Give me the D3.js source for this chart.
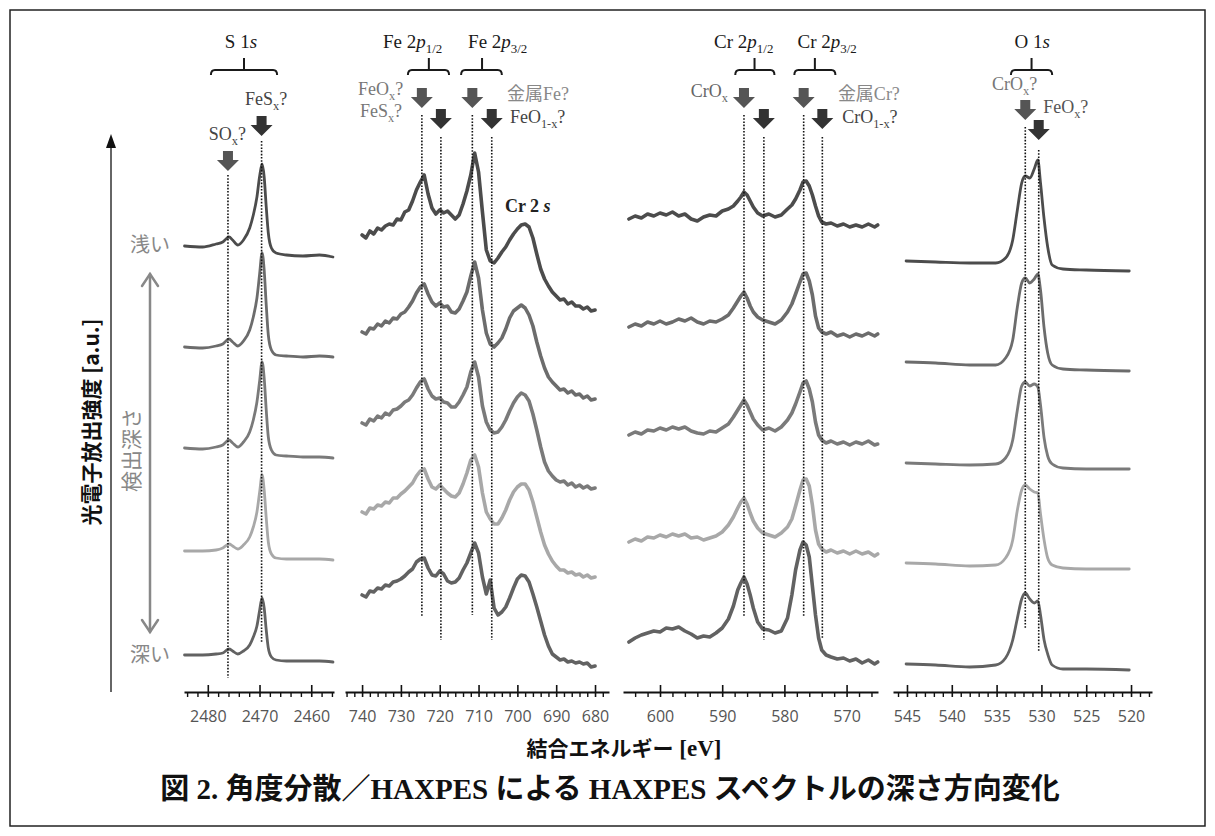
<!DOCTYPE html>
<html><head><meta charset="utf-8">
<script src="https://cdn.jsdelivr.net/npm/d3@7"></script>
<style>
html,body{margin:0;padding:0;background:#fff;}
svg{display:block;}
</style></head>
<body>
<svg id="chart" width="1215" height="836"></svg>
<script>
// ================= DATA =================
// binding energies (eV) and photoelectron intensities (a.u., stacked as displayed), shallow -> deep
const sEnergy = [2484.5,2481.0,2478.4,2477.1,2475.9,2475.2,2474.2,2473.1,2471.9,2471.2,2470.5,2470.0,2469.5,2469.1,2468.7,2468.3,2467.7,2466.8,2464.8,2461.6,2458.4,2455.8];
const sDepth1 = [444,443,446,448,453,450,445,450,462,475,493,513,526,513,483,457,442,437,435,434,435,433];
const sDepth2 = [343,342,344,346,351,348,344,349,360,373,392,415,437,420,385,355,340,335,334,333,334,333];
const sDepth3 = [242,241,243,245,250,247,243,248,258,270,288,308,328,312,280,253,240,235,234,233,233,232];
const sDepth4 = [139,139,140,142,146,144,141,145,153,163,178,197,215,200,172,148,136,132,131,131,131,130];
const sDepth5 = [35,35,36,37,41,39,36,39,45,53,64,79,92,82,60,42,33,30,29,29,29,28];

const feEnergy = [740,739,738,737,736,735,734,733,732,731,730,729,728,727,726,725,724,723,722,721,720,719,718,717,716,715,714,713,712,711,710,709,708,707,706,705,704,703,702,701,700,699,698,697,696,695,694,693,692,691,690,689,688,687,686,685,684,683,682,681,680];
const feDepth1 = [455,452,459,456,462,460,464,466,465,471,470,478,480,489,500,508,515,496,482,476,480,477,479,475,471,475,486,499,515,537,518,478,440,429,427,432,438,443,450,456,461,465,466,463,452,436,421,411,404,398,394,390,391,386,388,384,384,381,383,379,380];
const feDepth2 = [358,356,362,361,366,364,369,367,372,371,376,378,383,389,397,403,406,396,388,384,387,383,384,378,377,381,389,398,414,428,412,380,357,346,343,347,352,361,372,379,382,385,382,375,364,348,334,322,313,308,304,300,301,297,299,295,296,292,294,290,291];
const feDepth3 = [267,265,271,269,274,272,277,275,280,281,284,288,290,295,302,308,311,301,294,291,292,288,287,283,283,288,295,303,318,328,313,284,268,260,257,258,263,270,279,287,293,297,295,289,276,260,243,228,219,214,210,208,209,205,207,203,205,202,204,201,202];
const feDepth4 = [178,176,182,181,185,184,188,187,192,192,196,199,203,207,214,219,221,211,203,201,205,201,197,194,193,197,206,217,230,235,223,197,178,171,166,166,172,180,190,198,203,206,206,200,188,173,158,145,136,129,124,120,120,117,118,115,116,113,115,112,113];
const feDepth5 = [95,93,99,98,102,101,105,104,108,109,111,114,118,121,128,131,132,122,115,114,119,116,109,107,108,112,120,127,137,147,137,113,96,110,82,75,78,83,92,102,111,115,114,108,96,83,69,55,44,36,33,30,31,28,29,27,28,26,27,23,24];

const crEnergy = [605,604,603,602,601,600,599,598,597,596,595,594,593,592,591,590,589,588.2,587.5,587,586.5,586,585.5,585,584.3,583.5,582.5,581.5,580.5,579.5,578.8,578.2,577.5,577,576.5,576,575.5,575,574.5,574,573.3,572.5,571.5,570.5,569.5,568.5,567.5,566.5,565.5,565];
const crDepth1 = [471,474,472,476,474,477,475,478,474,476,471,469,473,475,474,479,481,484,489,493,498,495,489,483,477,474,476,473,475,481,485,491,500,508,509,504,495,484,474,468,466,467,464,466,463,465,463,466,463,465];
const crDepth2 = [363,366,364,368,366,369,366,368,371,369,372,368,366,369,368,371,375,382,389,394,398,392,384,378,373,370,368,366,370,378,386,396,408,416,417,409,395,374,362,358,356,358,354,356,353,356,354,357,354,356];
const crDepth3 = [255,258,256,260,259,262,260,263,261,263,259,257,256,259,258,262,266,273,280,285,290,285,278,271,265,260,262,259,263,270,277,286,298,307,309,301,288,268,255,250,247,249,246,248,245,248,246,249,245,246];
const crDepth4 = [148,151,149,153,152,155,153,156,154,156,152,153,150,152,154,158,165,173,182,188,192,186,177,169,162,157,155,153,157,163,171,184,200,210,211,204,185,160,146,141,138,140,137,139,136,139,136,138,134,136];
const crDepth5 = [48,52,55,57,59,58,62,61,63,59,56,52,54,53,57,62,71,84,100,107,113,106,95,82,68,61,60,57,59,72,95,120,140,148,145,133,104,75,52,40,35,33,31,32,29,31,27,30,26,28];

const oEnergy = [545.1,541.8,538.0,535.1,534.0,533.2,532.7,532.2,531.8,531.3,530.8,530.4,530.1,529.7,529.3,528.8,527.6,525.0,520.2];
const oDepth1 = [429,428,427,427,432,450,479,507,514,512,521,530,507,471,443,425,421,420,419];
const oDepth2 = [328,327,325,325,332,350,382,407,412,407,411,416,400,362,337,325,321,320,319];
const oDepth3 = [227,226,225,226,232,250,279,304,308,304,306,303,285,252,234,226,222,221,221];
const oDepth4 = [127,126,124,125,132,150,179,200,205,201,198,197,176,150,132,125,122,121,121];
const oDepth5 = [26,25,23,25,32,50,71,91,97,91,87,89,75,50,36,25,21,21,20];

const sTicks = [2480,2470,2460];
const feTicks = [740,730,720,710,700,690,680];
const crTicks = [600,590,580,570];
const oTicks = [545,540,535,530,525,520];

// chemical-state marker energies (eV)
const sMarkerEnergy = [2476.1, 2469.6];
const feMarkerEnergy = [724.6, 719.7, 711.6, 706.6];
const crMarkerEnergy = [586.5, 583.3, 576.9, 573.9];
const oMarkerEnergy = [531.8, 530.3];

// ================= DRAW =================
const svg = d3.select('#chart');
const SERIF = "'Liberation Serif','Noto Sans CJK JP',serif";
const CJK = "'Noto Sans CJK JP','Noto Sans',sans-serif";
svg.append('rect').attr('width',1215).attr('height',836).attr('fill','#fff');
svg.append('rect').attr('x',10).attr('y',10).attr('width',1195).attr('height',816)
  .attr('fill','none').attr('stroke','#222').attr('stroke-width',1.5);

const y = d3.scaleLinear().domain([0,550]).range([690,140]);
const depthColors = ['#4c4c4c','#6c6c6c','#7a7a7a','#a8a8a8','#626262'];

const panels = [
  {energy:sEnergy, spectra:[sDepth1,sDepth2,sDepth3,sDepth4,sDepth5], domain:[2484.6,2455.6], range:[184,334], major:sTicks, minorStep:2, curve:d3.curveMonotoneX, sw:2.8},
  {energy:feEnergy, spectra:[feDepth1,feDepth2,feDepth3,feDepth4,feDepth5], domain:[744.4,676.4], range:[345,609], major:feTicks, minorStep:2, curve:d3.curveLinear, sw:3.6},
  {energy:crEnergy, spectra:[crDepth1,crDepth2,crDepth3,crDepth4,crDepth5], domain:[605.95,564.95], range:[623,878], major:crTicks, minorStep:2, curve:d3.curveLinear, sw:3.6},
  {energy:oEnergy, spectra:[oDepth1,oDepth2,oDepth3,oDepth4,oDepth5], domain:[546.56,517.66], range:[893,1152], major:oTicks, minorStep:1, curve:d3.curveMonotoneX, sw:2.8}
];
panels.forEach(p => { p.x = d3.scaleLinear().domain(p.domain).range(p.range); });

// spectra
panels.forEach(p => {
  const g = svg.append('g');
  p.spectra.forEach((vals, k) => {
    const pts = p.energy.map((e,i) => [e, vals[i]]);
    const line = d3.line().x(d => p.x(d[0])).y(d => y(d[1])).curve(p.curve);
    g.append('path').attr('d', line(pts)).attr('fill','none')
      .attr('stroke', depthColors[k]).attr('stroke-width', p.sw)
      .attr('stroke-linejoin','round').attr('stroke-linecap','round');
  });
});

// axes
const axisY = 692;
panels.forEach(p => {
  const lo = Math.min(...p.domain), hi = Math.max(...p.domain);
  const minor = d3.range(Math.ceil(lo/p.minorStep)*p.minorStep, hi+1e-9, p.minorStep).filter(v => !p.major.includes(v));
  const gmin = svg.append('g').attr('transform',`translate(0,${axisY})`)
    .call(d3.axisBottom(p.x).tickValues(minor).tickSize(5).tickSizeOuter(0).tickFormat(''));
  gmin.select('.domain').attr('stroke','#111').attr('stroke-width',2);
  gmin.selectAll('.tick line').attr('stroke','#111').attr('stroke-width',1.4);
  const gmaj = svg.append('g').attr('transform',`translate(0,${axisY})`)
    .call(d3.axisBottom(p.x).tickValues(p.major).tickSize(5).tickSizeOuter(0).tickPadding(14).tickFormat(d3.format('d')));
  gmaj.select('.domain').remove();
  gmaj.selectAll('.tick line').attr('y1',-7).attr('stroke','#111').attr('stroke-width',1.6);
  gmaj.selectAll('.tick text').attr('font-family',"'Open Sans',sans-serif").attr('font-size',16).attr('fill','#555');
});

// rich text helper
function rich(parent, x, yy, segs, attrs){
  const t = parent.append('text').attr('x',x).attr('y',yy);
  Object.entries(attrs||{}).forEach(([k,v]) => t.attr(k,v));
  let shift = 0;
  segs.forEach(s => {
    const txt = Array.isArray(s) ? s[0] : s;
    const kind = Array.isArray(s) ? (s[1]||'') : '';
    const sp = t.append('tspan').text(txt);
    let target = 0;
    if (kind.includes('sub')) { sp.attr('font-size','0.68em'); target = 5; }
    if (kind.includes('i')) sp.attr('font-style','italic');
    if (target !== shift) { sp.attr('dy', target - shift); shift = target; }
  });
  return t;
}

// markers: arrows + dotted lines
const markerLayout = [
  [0, sMarkerEnergy[0], 151, 175, 678, '#555'],
  [0, sMarkerEnergy[1], 116, 141, 642, '#333'],
  [1, feMarkerEnergy[0], 88, 115, 617, '#555'],
  [1, feMarkerEnergy[1], 109, 137, 640, '#333'],
  [1, feMarkerEnergy[2], 88, 115, 615, '#555'],
  [1, feMarkerEnergy[3], 109, 137, 640, '#333'],
  [2, crMarkerEnergy[0], 88, 115, 617, '#555'],
  [2, crMarkerEnergy[1], 109, 137, 640, '#333'],
  [2, crMarkerEnergy[2], 88, 115, 617, '#555'],
  [2, crMarkerEnergy[3], 109, 137, 638, '#333'],
  [3, oMarkerEnergy[0], 100, 127, 629, '#555'],
  [3, oMarkerEnergy[1], 120, 150, 652, '#333']
];
function arrowPath(cx, top){
  const sw=5, hw=11, sh=9, h=20;
  return `M${cx-sw},${top}H${cx+sw}V${top+sh}H${cx+hw}L${cx},${top+h}L${cx-hw},${top+sh}H${cx-sw}Z`;
}
const gm = svg.append('g');
markerLayout.forEach(([pi, ev, aTop, dTop, dBot, col]) => {
  const cx = panels[pi].x(ev);
  gm.append('line').attr('x1',cx).attr('x2',cx).attr('y1',dTop).attr('y2',dBot)
    .attr('stroke','#111').attr('stroke-width',1.6).attr('stroke-dasharray','1.6,1.6');
  gm.append('path').attr('d', arrowPath(cx, aTop)).attr('fill', col);
});

// marker labels
const labelLayout = [
  [0, 2479.8, 140, 'start', [['SO'],['x','sub'],['?']], '#444'],
  [0, 2472.8, 105, 'start', [['FeS'],['x','sub'],['?']], '#444'],
  [1, 729.4, 95, 'end', [['FeO'],['x','sub'],['?']], '#777'],
  [1, 729.7, 117, 'end', [['FeS'],['x','sub'],['?']], '#777'],
  [1, 702.7, 100, 'start', [['金属Fe?']], '#888'],
  [1, 701.9, 123, 'start', [['FeO'],['1-x','sub'],['?']], '#444'],
  [2, 589.1, 97, 'end', [['CrO'],['x','sub']], '#666'],
  [2, 571.4, 100, 'start', [['金属Cr?']], '#888'],
  [2, 570.7, 123, 'start', [['CrO'],['1-x','sub'],['?']], '#444'],
  [3, 535.5, 90, 'start', [['CrO'],['x','sub'],['?']], '#777'],
  [3, 529.8, 113, 'start', [['FeO'],['x','sub'],['?']], '#555']
];
labelLayout.forEach(([pi, ev, yy, anchor, segs, col]) => {
  rich(svg, panels[pi].x(ev), yy, segs, {'font-family':SERIF,'font-size':18,'fill':col,'text-anchor':anchor});
});

// core-level titles with brackets
const titleLayout = [
  [0, 2476.7, [['S 1'],['s','i']], [2479.4,2466.6,2473.0]],
  [1, 734.6, [['Fe 2'],['p','i'],['1/2','sub']], [728.2,717.6,722.8]],
  [1, 712.7, [['Fe 2'],['p','i'],['3/2','sub']], [714.5,704.0,709.1]],
  [2, 591.3, [['Cr 2'],['p','i'],['1/2','sub']], [587.9,581.6,584.8]],
  [2, 577.9, [['Cr 2'],['p','i'],['3/2','sub']], [578.4,571.8,575.1]],
  [3, 533.0, [['O 1'],['s','i']], [533.4,528.8,531.1]]
];
titleLayout.forEach(([pi, ev, segs, br]) => {
  const X = panels[pi].x;
  rich(svg, X(ev), 48, segs, {'font-family':SERIF,'font-size':19,'fill':'#1a1a1a'});
  const x1 = X(br[0]), x2 = X(br[1]), xc = X(br[2]), by = 70;
  svg.append('path').attr('d',`M${x1},${by+5}Q${x1},${by} ${x1+4},${by}H${x2-4}Q${x2},${by} ${x2},${by+5}M${xc},${by}V${by-12}`)
    .attr('fill','none').attr('stroke','#1a1a1a').attr('stroke-width',2);
});

// Cr 2s label
rich(svg, panels[1].x(703.2), 212, [['Cr 2 '],['s','i']], {'font-family':SERIF,'font-size':18,'font-weight':'bold','fill':'#222'});

// y axis arrow and titles
svg.append('line').attr('x1',111).attr('x2',111).attr('y1',692).attr('y2',146).attr('stroke','#333').attr('stroke-width',1.5);
svg.append('path').attr('d','M111,134L106,148H116Z').attr('fill','#111');
svg.append('text').attr('transform','translate(99,422) rotate(-90)').attr('text-anchor','middle')
  .attr('font-family',CJK).attr('font-size',21).attr('font-weight','bold').attr('fill','#111')
  .text('光電子放出強度 [a.u.]');

// depth arrow
const dg = svg.append('g').attr('stroke','#888').attr('stroke-width',2.5).attr('fill','none').attr('stroke-linecap','round');
dg.append('line').attr('x1',150).attr('x2',150).attr('y1',274).attr('y2',632);
dg.append('path').attr('d','M142,286L150,274L158,286');
dg.append('path').attr('d','M142,620L150,632L158,620');
svg.append('text').attr('transform','translate(139,450) rotate(-90)').attr('text-anchor','middle')
  .attr('font-family',CJK).attr('font-size',21).attr('fill','#888').text('検出深さ');
svg.append('text').attr('x',150).attr('y',252).attr('text-anchor','middle')
  .attr('font-family',CJK).attr('font-size',20).attr('fill','#888').text('浅い');
svg.append('text').attr('x',150).attr('y',662).attr('text-anchor','middle')
  .attr('font-family',CJK).attr('font-size',20).attr('fill','#888').text('深い');

// x axis title
const xt = svg.append('text').attr('x',624).attr('y',756).attr('text-anchor','middle').attr('font-weight','bold').attr('fill','#111');
xt.append('tspan').attr('font-family',CJK).attr('font-size',21).text('結合エネルギー');
xt.append('tspan').attr('font-family',SERIF).attr('font-size',23).text(' [eV]');

// caption
svg.append('text').attr('x',610).attr('y',799).attr('text-anchor','middle')
  .attr('font-family',SERIF).attr('font-size',29).attr('font-weight','bold').attr('fill','#111')
  .text('図 2.  角度分散／HAXPES による HAXPES スペクトルの深さ方向変化');
</script>
</body></html>
